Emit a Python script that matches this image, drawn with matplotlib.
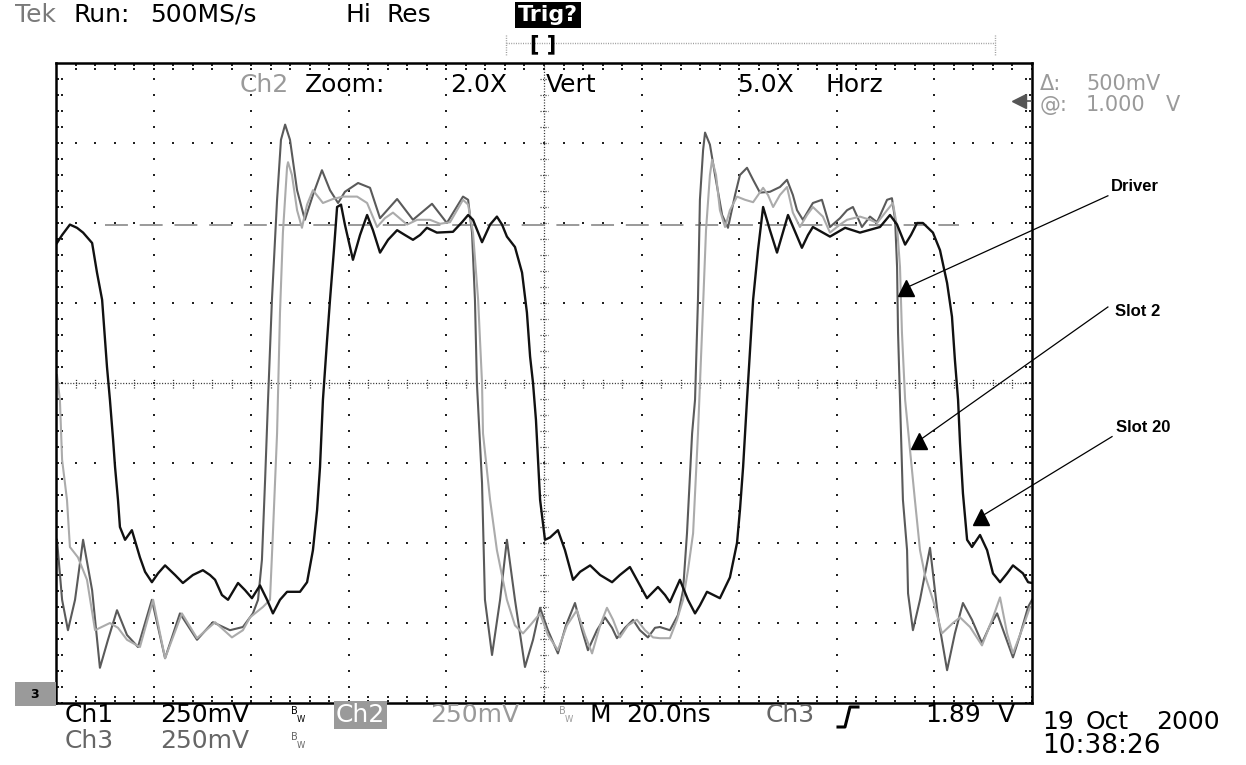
import matplotlib
matplotlib.use("Agg")
import matplotlib.pyplot as plt
from matplotlib.lines import Line2D
import numpy as np

W, H = 1246, 765

# Scope capture: time in ns (4 ns/div after 5x horizontal zoom),
# amplitude in screen divisions (0 = screen centre).
driver_t = [0.04, 0.25, 0.49, 0.78, 1.11, 1.48, 1.80, 2.13, 2.50, 2.91, 3.36, 3.93, 4.47, 5.08,
            5.78, 6.43, 7.13, 7.66, 8.07, 8.28, 8.44, 8.57, 8.69, 8.85, 9.06, 9.22, 9.39, 9.59,
            9.88, 10.20, 10.53, 10.90, 11.23, 11.56, 11.84, 12.38, 12.87, 13.28, 13.98, 14.63,
            15.41, 16.02, 16.68, 16.89, 17.05, 17.17, 17.25, 17.46, 17.58, 17.87, 18.20, 18.48,
            18.81, 19.22, 19.55, 19.84, 20.16, 20.57, 20.90, 21.27, 21.56, 21.80, 22.17, 22.50,
            22.79, 22.99, 23.32, 23.65, 23.93, 24.26, 24.55, 24.75, 25.16, 25.49, 25.70, 25.86,
            26.07, 26.19, 26.31, 26.39, 26.52, 26.60, 26.80, 27.01, 27.30, 27.54, 27.83, 28.03,
            28.32, 28.57, 28.85, 29.26, 29.67, 29.96, 30.20, 30.37, 30.61, 31.02, 31.39, 31.72,
            32.13, 32.42, 32.66, 33.03, 33.36, 33.65, 34.06, 34.26, 34.39, 34.47, 34.51, 34.59,
            34.71, 34.88, 34.92, 35.12, 35.41, 35.82, 36.15, 36.52, 36.84, 37.17, 37.54, 37.95,
            38.28, 38.57, 38.89, 39.22, 39.51, 39.84, 40.00]
driver_v = [-1.96, -2.71, -3.09, -2.71, -1.96, -2.59, -3.56, -3.21, -2.84, -3.15, -3.30, -2.71,
            -3.44, -2.88, -3.21, -2.99, -3.09, -3.05, -2.88, -2.71, -2.21, -1.21, -0.21, 1.04,
            2.29, 3.04, 3.23, 3.04, 2.41, 2.04, 2.35, 2.66, 2.41, 2.25, 2.39, 2.50, 2.44, 2.06,
            2.30, 2.04, 2.24, 2.00, 2.33, 2.29, 1.88, 1.04, 0.00, -1.25, -2.71, -3.40, -2.71,
            -1.96, -2.71, -3.55, -3.21, -2.81, -3.09, -3.38, -3.03, -2.75, -3.09, -3.34, -3.09,
            -2.93, -3.06, -3.19, -3.06, -2.96, -3.09, -3.18, -3.06, -3.05, -3.09, -2.90, -2.59,
            -1.88, -0.63, -0.21, 1.04, 2.29, 2.91, 3.13, 2.98, 2.60, 2.10, 1.94, 2.35, 2.60,
            2.69, 2.54, 2.38, 2.39, 2.45, 2.54, 2.35, 2.16, 2.04, 2.25, 2.29, 1.95, 2.06, 2.16,
            2.20, 1.95, 2.08, 2.01, 2.29, 2.31, 2.04, 1.45, 0.63, -0.21, -1.46, -2.09, -2.63,
            -3.09, -2.71, -2.06, -2.93, -3.59, -3.13, -2.75, -2.96, -3.25, -3.03, -2.88, -3.15,
            -3.43, -3.15, -2.80, -2.71]

slot2_t = [0.04, 0.16, 0.25, 0.45, 0.57, 0.90, 1.27, 1.60, 2.21, 2.54, 2.91, 3.44, 3.98, 4.47,
           5.16, 5.78, 6.52, 7.21, 7.66, 7.95, 8.48, 8.77, 8.89, 9.06, 9.18, 9.30, 9.47, 9.51,
           9.67, 9.88, 10.08, 10.29, 10.53, 10.94, 11.35, 11.76, 12.34, 12.75, 13.16, 13.48,
           13.81, 14.39, 14.80, 15.33, 15.74, 16.15, 16.68, 16.89, 17.09, 17.30, 17.46, 17.50,
           17.79, 18.07, 18.48, 18.81, 19.14, 19.43, 19.84, 20.16, 20.57, 20.94, 21.35, 21.68,
           21.97, 22.30, 22.58, 22.83, 23.11, 23.44, 23.81, 24.14, 24.47, 24.75, 25.16, 25.45,
           25.70, 25.90, 26.11, 26.31, 26.48, 26.64, 26.80, 26.89, 27.05, 27.21, 27.42, 27.62,
           27.91, 28.24, 28.57, 28.98, 29.18, 29.39, 29.67, 29.96, 30.20, 30.49, 30.78, 31.02,
           31.43, 31.72, 32.13, 32.42, 32.95, 33.36, 33.65, 34.06, 34.30, 34.47, 34.59, 34.67,
           34.80, 35.00, 35.20, 35.41, 35.61, 35.94, 36.31, 36.76, 37.05, 37.46, 37.95, 38.40,
           38.69, 38.98, 39.22, 39.63, 39.92]
slot2_v = [0.10, -0.21, -0.96, -1.46, -2.05, -2.18, -2.46, -3.09, -3.00, -3.06, -3.21, -3.30,
           -2.71, -3.44, -2.88, -3.19, -2.99, -3.18, -3.09, -2.93, -2.80, -2.71, -1.88, -0.63,
           0.88, 1.88, 2.70, 2.76, 2.60, 2.16, 1.94, 2.23, 2.41, 2.25, 2.30, 2.33, 2.33, 2.25,
           1.95, 2.06, 2.13, 1.98, 2.04, 2.04, 1.99, 2.01, 2.29, 2.23, 1.88, 1.04, 0.00, -0.63,
           -1.46, -2.09, -2.71, -3.03, -3.13, -3.03, -2.88, -3.15, -3.34, -3.03, -2.84, -3.15,
           -3.38, -3.03, -2.81, -2.96, -3.18, -3.03, -2.96, -3.09, -3.18, -3.19, -3.19, -2.96,
           -2.71, -2.34, -1.88, -0.63, 0.66, 1.91, 2.60, 2.79, 2.60, 2.16, 1.95, 2.16, 2.33,
           2.29, 2.26, 2.44, 2.35, 2.20, 2.35, 2.45, 2.13, 1.95, 2.10, 2.20, 2.08, 1.88, 1.98,
           2.04, 2.08, 2.04, 2.00, 2.16, 2.25, 1.95, 1.45, 0.63, -0.21, -0.84, -1.46, -2.09,
           -2.40, -2.71, -3.13, -3.00, -2.93, -3.05, -3.28, -2.93, -2.68, -3.13, -3.38, -3.05,
           -2.80]

slot20_t = [0.04, 0.25, 0.57, 0.86, 1.11, 1.48, 1.68, 1.89, 2.01, 2.09, 2.21, 2.34, 2.42, 2.54,
            2.62, 2.83, 3.11, 3.44, 3.65, 3.93, 4.18, 4.47, 4.88, 5.20, 5.61, 6.02, 6.31, 6.52,
            6.80, 7.05, 7.46, 7.75, 8.03, 8.36, 8.65, 8.89, 9.18, 9.47, 10.00, 10.29, 10.53,
            10.70, 10.82, 10.94, 11.11, 11.23, 11.39, 11.52, 11.68, 11.84, 12.17, 12.46, 12.75,
            12.99, 13.28, 13.61, 13.98, 14.30, 14.63, 14.92, 15.20, 15.61, 16.27, 16.64, 16.89,
            17.09, 17.46, 17.79, 18.07, 18.28, 18.48, 18.81, 19.10, 19.30, 19.43, 19.55, 19.67,
            19.84, 20.04, 20.25, 20.57, 20.86, 21.19, 21.48, 21.89, 22.30, 22.79, 23.11, 23.52,
            23.93, 24.22, 24.67, 24.96, 25.16, 25.57, 25.90, 26.19, 26.39, 26.68, 27.21, 27.62,
            27.91, 28.03, 28.16, 28.32, 28.57, 28.77, 28.98, 29.26, 29.55, 29.80, 30.00, 30.29,
            30.57, 30.82, 31.02, 31.72, 32.34, 32.95, 33.77, 34.18, 34.47, 34.80, 35.04, 35.29,
            35.53, 35.94, 36.23, 36.52, 36.72, 36.84, 36.97, 37.05, 37.17, 37.34, 37.54, 37.87,
            38.16, 38.40, 38.69, 38.98, 39.22, 39.63, 39.84, 40.00]
slot20_v = [1.75, 1.85, 1.98, 1.94, 1.88, 1.75, 1.38, 1.04, 0.54, 0.20, -0.21, -0.71, -1.05,
            -1.46, -1.80, -1.96, -1.84, -2.18, -2.36, -2.49, -2.38, -2.28, -2.40, -2.50, -2.40,
            -2.34, -2.40, -2.46, -2.65, -2.71, -2.50, -2.59, -2.69, -2.53, -2.71, -2.88, -2.71,
            -2.61, -2.61, -2.49, -2.09, -1.59, -1.05, -0.21, 0.54, 1.04, 1.66, 2.20, 2.23, 1.98,
            1.54, 1.85, 2.10, 1.91, 1.63, 1.79, 1.91, 1.85, 1.79, 1.85, 1.94, 1.88, 1.89, 2.01,
            2.10, 2.04, 1.76, 1.98, 2.08, 1.98, 1.83, 1.70, 1.38, 0.88, 0.33, 0.00, -0.46, -1.46,
            -1.96, -1.93, -1.84, -2.09, -2.46, -2.36, -2.28, -2.40, -2.49, -2.40, -2.30, -2.53,
            -2.69, -2.55, -2.65, -2.74, -2.46, -2.71, -2.88, -2.78, -2.61, -2.69, -2.43, -2.00,
            -1.59, -1.05, -0.21, 1.04, 1.66, 2.20, 1.91, 1.63, 1.89, 2.10, 1.89, 1.69, 1.85,
            1.95, 1.83, 1.94, 1.88, 1.95, 2.10, 1.98, 1.73, 1.85, 2.00, 2.00, 1.88, 1.66, 1.25,
            0.83, 0.29, -0.21, -0.75, -1.38, -1.96, -2.05, -1.90, -2.09, -2.38, -2.49, -2.38,
            -2.28, -2.38, -2.49, -2.50]

ref_level = 1.98
ref_span = (2.0, 37.0)

# label, arrow tip (ns, div), line start (ns, div), label centre (ns, div)
callouts = [
    ("Driver", (34.84, 1.19), (43.11, 2.34), (44.22, 2.46)),
    ("Slot 2", (35.37, -0.72), (43.11, 0.95), (44.34, 0.89)),
    ("Slot 20", (37.91, -1.67), (43.28, -0.67), (44.55, -0.56)),
]

plt.rcParams["font.family"] = "DejaVu Sans"
plt.rcParams["lines.scale_dashes"] = False

fig = plt.figure(figsize=(W / 100, H / 100), dpi=100)
fig.patch.set_facecolor("white")
ax = fig.add_axes([56 / W, (H - 703) / H, 976 / W, 640 / H])
ax.set_xlim(0, 40)
ax.set_ylim(-4, 4)
ax.set_xticks([])
ax.set_yticks([])
for sp in ax.spines.values():
    sp.set_linewidth(1.8)
    sp.set_color("black")

DOT = dict(ls="none", marker="s", ms=1.5, mew=0, color="#222222")
minor_x = np.arange(0, 40.01, 0.8)
minor_y = np.arange(-4, 4.01, 0.2)

# dotted graticule
for k in [1, 2, 3, 4, 6, 7, 8, 9]:
    ax.plot(np.full_like(minor_y, 4.0 * k), minor_y, **DOT)
for j in [-3, -2, -1, 1, 2, 3]:
    ax.plot(minor_x, np.full_like(minor_x, float(j)), **DOT)

# centre crosshair with minor ticks
ax.plot([0, 40], [0, 0], color="#333333", lw=0.9, dashes=(0.8, 1.2))
ax.plot([20, 20], [-4, 4], color="#333333", lw=0.9, dashes=(0.8, 1.2))
for t in minor_x:
    ax.plot([t, t], [-0.06, 0.06], color="#333333", lw=0.9, dashes=(0.8, 1.0))
for y in minor_y:
    ax.plot([19.84, 20.16], [y, y], color="#333333", lw=0.9, dashes=(0.8, 1.0))

# border ticks
for off in (0.03, 0.07):
    ax.plot(minor_x, np.full_like(minor_x, 4 - off), **DOT)
    ax.plot(minor_x, np.full_like(minor_x, -4 + off), **DOT)
for off in (0.09, 0.24):
    ax.plot(np.full_like(minor_y, off), minor_y, **DOT)
    ax.plot(np.full_like(minor_y, 40 - off), minor_y, **DOT)

# reference level
ax.plot(ref_span, [ref_level, ref_level], color="#9a9a9a", lw=1.4, dashes=(16.5, 8.5))

# traces
ax.plot(driver_t, driver_v, color="#5a5a5a", lw=1.5)
ax.plot(slot2_t, slot2_v, color="#ababab", lw=1.5)
ax.plot(slot20_t, slot20_v, color="#111111", lw=1.7)

# callouts
for label, tip, start, pos in callouts:
    ax.plot([start[0], tip[0]], [start[1], tip[1]], color="black", lw=0.9, clip_on=False)
    ax.plot([tip[0]], [tip[1]], marker="^", ms=12, color="black", clip_on=False)
    ax.text(pos[0], pos[1], label, ha="center", va="center", fontsize=12,
            fontweight="bold", family="Liberation Sans")


def ftext(x, y, s, **kw):
    kw.setdefault("va", "center")
    kw.setdefault("fontsize", 18)
    fig.text(x / W, 1 - y / H, s, **kw)


def fwords(xs, y, s, **kw):
    # scope font is wider than DejaVu: place each word at its own column
    for x, w in zip(xs, s.split(" ")):
        ftext(x, y, w, **kw)


def fline(xs, ys, **kw):
    fig.add_artist(Line2D([x / W for x in xs], [1 - y / H for y in ys],
                          transform=fig.transFigure, **kw))


def bw(x, y, color):
    ftext(x, y - 4, "B", fontsize=7, color=color)
    ftext(x + 6, y + 4, "W", fontsize=6, color=color)


# header
ftext(15, 15, "Tek", color="#7a7a7a")
fwords([74, 150], 15, "Run: 500MS/s", color="black")
fwords([345, 386], 15, "Hi Res", color="black")
ftext(518, 15, "Trig?", color="white", fontsize=16, fontweight="bold",
      bbox=dict(facecolor="black", edgecolor="none", pad=2))
fline([506, 995], [43, 43], color="#9a9a9a", lw=1, dashes=(0.7, 1.0))
fline([506, 506], [35, 55], color="#9a9a9a", lw=1, dashes=(0.7, 1.0))
fline([995, 995], [35, 55], color="#9a9a9a", lw=1, dashes=(0.7, 1.0))
ftext(543, 44, "[ ]", ha="center", fontsize=15, fontweight="bold")

# zoom banner inside the screen
ftext(240, 85, "Ch2", color="#9a9a9a")
ftext(305, 85, "Zoom:", color="black")
fwords([450, 546], 85, "2.0X Vert", color="black")
fwords([737, 826], 85, "5.0X Horz", color="black")

# reference readout at right
fwords([1040, 1086], 84, "\u0394: 500mV", color="#9a9a9a", fontsize=15)
fwords([1040, 1086, 1166], 105, "@: 1.000 V", color="#9a9a9a", fontsize=15)
fline([1016, 1031], [101, 101], color="#555555", lw=1.2)
fig.add_artist(Line2D([1019 / W], [1 - 101 / H], marker="<", ms=10, color="#555555",
                      transform=fig.transFigure))

# bottom-left ground marker
fig.add_artist(plt.Rectangle((15 / W, 1 - 706 / H), 41 / W, 24 / H, facecolor="#9a9a9a",
                             edgecolor="none", transform=fig.transFigure))
ftext(30, 694, "3", fontsize=9, fontweight="bold", color="black")

# channel readouts
ftext(65, 715, "Ch1", color="black")
ftext(160, 715, "250mV", color="black")
bw(291, 715, "black")
ftext(336, 715, "Ch2", color="white",
      bbox=dict(facecolor="#9a9a9a", edgecolor="none", pad=1.5))
ftext(430, 715, "250mV", color="#9a9a9a")
bw(559, 715, "#9a9a9a")
fwords([590, 626], 715, "M 20.0ns", color="black")
ftext(766, 715, "Ch3", color="#666666")
fline([838, 845, 850, 858], [727, 727, 707, 707], color="black", lw=2.2)
fwords([925, 998], 715, "1.89 V", color="black")

ftext(65, 741, "Ch3", color="#666666")
ftext(160, 741, "250mV", color="#666666")
bw(291, 741, "#666666")

fwords([1042, 1086, 1156], 722, "19 Oct 2000", color="black")
ftext(1042, 746, "10:38:26", color="black", fontsize=19)

fig.savefig("out.png", dpi=100)
